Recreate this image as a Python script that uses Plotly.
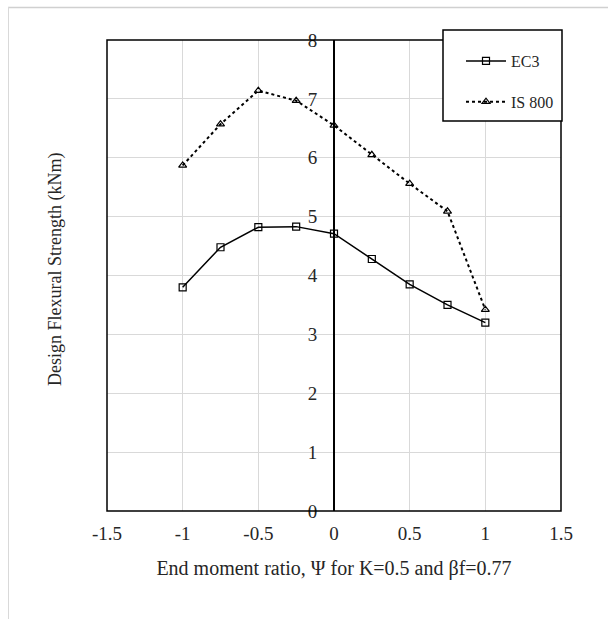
import plotly.graph_objects as go

psi = [-1, -0.75, -0.5, -0.25, 0, 0.25, 0.5, 0.75, 1]
ec3 = [3.80, 4.48, 4.82, 4.83, 4.71, 4.28, 3.85, 3.50, 3.20]
is800 = [5.87, 6.57, 7.14, 6.97, 6.55, 6.05, 5.56, 5.09, 3.42]
x_ticks = [-1.5, -1, -0.5, 0, 0.5, 1, 1.5]
x_tick_labels = ["-1.5", "-1", "-0.5", "0", "0.5", "1", "1.5"]

FONT = "Liberation Serif"
TXT = "#262626"
L, R, T, B = 107, 561, 40, 511
W, H = 608, 619

def px(x):
    return (x - L) / (R - L)

def py(y):
    return (B - y) / (B - T)

fig = go.Figure()
fig.add_trace(go.Scatter(
    x=psi, y=ec3, name="EC3", mode="lines+markers", legendgroup="a",
    line=dict(color="black", width=1.5),
    marker=dict(symbol="square-open", size=7, color="black", line=dict(width=1.2)),
))
fig.add_trace(go.Scatter(
    x=psi, y=is800, name="IS 800", mode="lines+markers", legendgroup="b",
    line=dict(color="black", width=2, dash="dot"),
    marker=dict(symbol="triangle-up-open", size=7, color="black", line=dict(width=1.2)),
))

fig.update_layout(
    width=W, height=H,
    margin=dict(l=L, r=W - R, t=T, b=H - B, autoexpand=False),
    paper_bgcolor="white", plot_bgcolor="white",
    font=dict(family=FONT, size=18, color=TXT),
    showlegend=True,
    legend=dict(
        x=px(461), y=py(44), xanchor="left", yanchor="top",
        borderwidth=0, bgcolor="rgba(0,0,0,0)",
        font=dict(family=FONT, size=16, color=TXT),
        tracegroupgap=17, itemwidth=40,
    ),
    xaxis=dict(
        range=[-1.5, 1.5], tickvals=x_ticks, ticktext=x_tick_labels,
        showgrid=True, gridcolor="#d9d9d9", gridwidth=1,
        zeroline=True, zerolinecolor="black", zerolinewidth=1.5,
        showline=False, ticks="",
        tickfont=dict(family=FONT, size=19, color=TXT),
        ticklabelstandoff=9,
        title=dict(text="End moment ratio, Ψ for K=0.5 and βf=0.77",
                   font=dict(family=FONT, size=20, color=TXT), standoff=17),
    ),
    yaxis=dict(
        range=[0, 8], dtick=1,
        showgrid=True, gridcolor="#d9d9d9", gridwidth=1,
        zeroline=False, showline=False, ticks="",
        anchor="free", position=px(334.3),
        tickfont=dict(family=FONT, size=19, color=TXT),
        ticklabelstandoff=17,
    ),
    annotations=[dict(
        text="Design Flexural Strength (kNm)", x=px(55), y=py(270),
        xref="paper", yref="paper", showarrow=False, textangle=-90,
        xanchor="center", yanchor="middle",
        font=dict(family=FONT, size=18, color=TXT),
    )],
    shapes=[
        dict(type="rect", xref="paper", yref="paper", x0=0, x1=1, y0=0, y1=1,
             line=dict(color="black", width=1.5), layer="above"),
        dict(type="rect", xref="paper", yref="paper", x0=px(443), x1=px(562),
             y0=py(121), y1=py(30), fillcolor="white",
             line=dict(color="black", width=1.5), layer="above"),
        dict(type="line", xref="paper", yref="paper", x0=px(8), x1=px(608),
             y0=py(7.5), y1=py(7.5), line=dict(color="#d0d0d0", width=1.5)),
        dict(type="line", xref="paper", yref="paper", x0=px(8.5), x1=px(8.5),
             y0=py(7), y1=py(619), line=dict(color="#d9d9d9", width=1)),
    ],
)

fig.write_html("out.html", config={"displayModeBar": False},
               post_script="document.body.style.margin='0';")
